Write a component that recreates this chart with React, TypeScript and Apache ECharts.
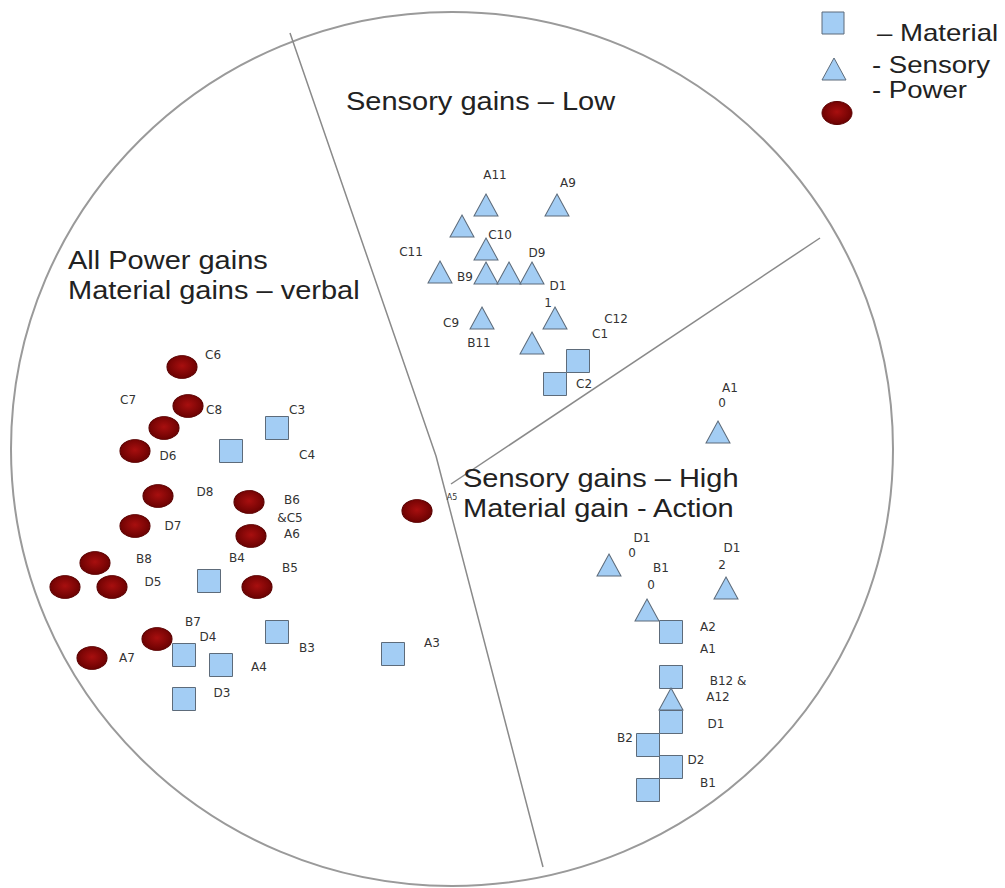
import React, { useEffect, useRef } from "react";
import * as echarts from "echarts";

// Positions in its own pixel-like coordinate space (0..1005, 0..888)
const materialPoints: number[][] = [
  [578, 361], [555, 384],
  [231, 451], [277, 428],
  [209, 581],
  [184, 655], [221, 665], [277, 632], [393, 654], [184, 699],
  [671, 632], [671, 677], [671, 722], [648, 745], [671, 767], [648, 790],
];

const sensoryPoints: number[][] = [
  [486, 205], [557, 205], [462, 226], [486, 249], [440, 272], [486, 273], [509, 273], [532, 273],
  [555, 318], [482, 318], [532, 343],
  [718, 432], [609, 565], [726, 588], [647, 610], [671, 699],
];

const powerPoints: number[][] = [
  [182, 367], [188, 406], [164, 428], [135, 451], [158, 496], [249, 502], [135, 526], [251, 536],
  [95, 563], [65, 587], [112, 587], [257, 587], [157, 639], [92, 658], [417, 511],
];

const pointLabels: [string, number, number][] = [
  ["A11", 495, 175], ["A9", 568, 183], ["C10", 500, 235], ["C11", 411, 252], ["D9", 537, 253],
  ["B9", 465, 277], ["D1", 558, 286], ["1", 548, 303], ["C12", 616, 319], ["C1", 600, 334],
  ["C9", 451, 323], ["B11", 479, 343], ["C2", 584, 384],
  ["C6", 213, 355], ["C7", 128, 400], ["C8", 214, 410], ["C3", 297, 410], ["D6", 168, 456],
  ["C4", 307, 455], ["D8", 205, 492], ["B6", 292, 500], ["&C5", 290, 518], ["D7", 173, 526],
  ["A6", 292, 534], ["B8", 144, 559], ["B4", 237, 558], ["B5", 290, 568], ["D5", 153, 582],
  ["B7", 193, 622], ["D4", 208, 637], ["B3", 307, 648], ["A3", 432, 643], ["A7", 127, 658],
  ["A4", 259, 667], ["D3", 222, 693],
  ["A1", 730, 388], ["0", 722, 403], ["D1", 642, 538], ["0", 632, 553], ["D1", 732, 548],
  ["2", 722, 565], ["B1", 661, 568], ["0", 651, 585], ["A2", 708, 627], ["A1", 708, 649],
  ["B12 &", 728, 681], ["A12", 718, 697], ["D1", 716, 724], ["B2", 625, 738], ["D2", 696, 760],
  ["B1", 708, 783],
];
const smallLabels: [string, number, number][] = [["A5", 452, 497]];

const dividerA: number[][] = [[290, 33], [436, 456], [543, 867]];
const dividerB: number[][] = [[451, 484], [820, 238]];

const regionTitles: [string, number, number][] = [
  ["Sensory gains – Low", 346, 101],
  ["All Power gains", 68, 260],
  ["Material gains – verbal", 68, 290],
  ["Sensory gains – High", 463, 478],
  ["Material gain - Action", 463, 508],
];

const legendNames = ["– Material", "- Sensory", "- Power"];

const BLUE = "#a3cdf4";
const BLUE_EDGE = "#5d6b7a";
const RED_GRAD = {
  type: "radial",
  x: 0.5,
  y: 0.45,
  r: 0.6,
  colorStops: [
    { offset: 0, color: "#a80f0f" },
    { offset: 1, color: "#640000" },
  ],
};

export default function App() {
  const ref = useRef<HTMLDivElement>(null);
  useEffect(() => {
    if (!ref.current) return;
    const chart = echarts.init(ref.current, undefined, { renderer: "svg" });
    const titleFont = "Liberation Sans";
    const graphics: any[] = [
      {
        type: "ellipse",
        shape: { cx: 452, cy: 449, rx: 441, ry: 437 },
        style: { fill: "none", stroke: "#9a9a9a", lineWidth: 2 },
        z: 0,
      },
      ...regionTitles.map(([t, x, y]) => ({
        type: "text",
        x,
        y,
        scaleX: 1.16,
        style: {
          text: t,
          fontSize: 25,
          fontFamily: titleFont,
          fill: "#222",
          verticalAlign: "middle",
          align: "left",
        },
        z: 10,
      })),
      // legend
      {
        type: "rect",
        shape: { x: 822, y: 12, width: 22, height: 22 },
        style: { fill: BLUE, stroke: BLUE_EDGE, lineWidth: 1 },
      },
      {
        type: "polygon",
        shape: { points: [[834, 58], [846, 80], [822, 80]] },
        style: { fill: BLUE, stroke: BLUE_EDGE, lineWidth: 1 },
      },
      {
        type: "ellipse",
        shape: { cx: 837, cy: 113, rx: 15, ry: 11.5 },
        style: { fill: RED_GRAD, stroke: "#5a0000", lineWidth: 1 },
      },
      ...legendNames.map((t, i) => ({
        type: "text",
        x: [877, 872, 872][i],
        y: [33, 65, 90][i],
        scaleX: 1.2,
        style: {
          text: t,
          fontSize: 23,
          fontFamily: titleFont,
          fill: "#222",
          verticalAlign: "middle",
          align: "left",
        },
      })),
    ];

    chart.setOption({
      animation: false,
      backgroundColor: "#ffffff",
      grid: { left: 0, right: 0, top: 0, bottom: 0, containLabel: false },
      xAxis: { type: "value", min: 0, max: 1005, show: false },
      yAxis: { type: "value", min: 0, max: 888, inverse: true, show: false },
      graphic: graphics,
      series: [
        {
          type: "line",
          data: dividerA,
          symbol: "none",
          lineStyle: { color: "#8a8a8a", width: 1.5 },
          silent: true,
          z: 1,
        },
        {
          type: "line",
          data: dividerB,
          symbol: "none",
          lineStyle: { color: "#8a8a8a", width: 1.5 },
          silent: true,
          z: 1,
        },
        {
          name: "Material",
          type: "scatter",
          data: materialPoints,
          symbol: "rect",
          symbolSize: [23, 23],
          itemStyle: { color: BLUE, borderColor: BLUE_EDGE, borderWidth: 1, opacity: 1 },
          z: 3,
        },
        {
          name: "Sensory",
          type: "scatter",
          data: sensoryPoints,
          symbol: "triangle",
          symbolSize: [24, 22],
          itemStyle: { color: BLUE, borderColor: BLUE_EDGE, borderWidth: 1, opacity: 1 },
          z: 4,
        },
        {
          name: "Power",
          type: "scatter",
          data: powerPoints,
          symbol: "circle",
          symbolSize: [30, 23],
          itemStyle: { color: RED_GRAD, borderColor: "#5a0000", borderWidth: 1, opacity: 1 },
          z: 4,
        },
        {
          name: "Labels",
          type: "scatter",
          data: [
            ...pointLabels.map(([n, x, y]) => ({ name: n, value: [x, y] })),
            ...smallLabels.map(([n, x, y]) => ({
              name: n,
              value: [x, y],
              label: { fontSize: 8 },
            })),
          ],
          symbol: "circle",
          symbolSize: 2,
          itemStyle: { color: "rgba(255,255,255,0)", borderWidth: 0 },
          label: {
            show: true,
            position: "inside",
            formatter: "{b}",
            color: "#333",
            opacity: 1,
            fontSize: 12,
            fontFamily: "DejaVu Sans",
          },
          labelLayout: { hideOverlap: false },
          silent: true,
          z: 6,
        },
      ],
    });
    return () => chart.dispose();
  }, []);
  return (
    <div
      ref={ref}
      style={{ position: "fixed", left: 0, top: 0, width: 1005, height: 888, background: "#fff" }}
    />
  );
}
